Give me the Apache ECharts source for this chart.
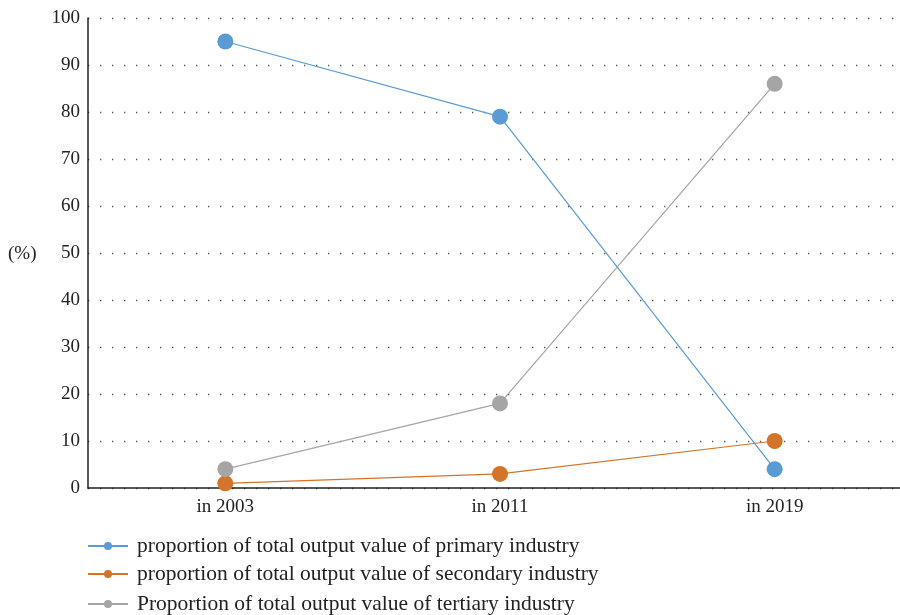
<!DOCTYPE html>
<html>
<head>
<meta charset="utf-8">
<script src="https://cdn.jsdelivr.net/npm/echarts@6/dist/echarts.min.js"></script>
<style>
  html, body { margin: 0; padding: 0; background: #fff; }
  #chart { width: 900px; height: 615px; }
</style>
</head>
<body>
<div id="chart"></div>
<script>
// Share of total output value by industry (%)
const years = ['in 2003', 'in 2011', 'in 2019'];
const primary = [95, 79, 4];
const secondary = [1, 3, 10];
const tertiary = [4, 18, 86];
const seriesNames = [
  'proportion of total output value of primary industry',
  'proportion of total output value of secondary industry',
  'Proportion of total output value of tertiary industry'
];
const colors = ['#5b9bd5', '#d4742a', '#a5a5a5'];
const legendTops = [535, 563, 593];

const font = '"Liberation Serif", "DejaVu Serif", serif';

const chart = echarts.init(document.getElementById('chart'));

function lineSeries(name, data, color) {
  return {
    name: name,
    type: 'line',
    data: data,
    symbol: 'circle',
    symbolSize: 16,
    lineStyle: { color: color, width: 1.2 },
    itemStyle: { color: color },
    emphasis: { disabled: true }
  };
}

// one legend per row so the stacked list never wraps into columns
function legendRow(name, top) {
  return {
    orient: 'vertical',
    left: 87,
    top: top,
    padding: 0,
    itemWidth: 40,
    itemHeight: 10,
    selectedMode: false,
    textStyle: { color: '#222', fontSize: 21.5, fontFamily: font, padding: [0, 0, 0, 4] },
    data: [name]
  };
}

chart.setOption({
  animation: false,
  textStyle: { fontFamily: font },
  color: colors,
  // the plot area runs past the right edge of the canvas
  grid: { left: 88, top: 18, width: 824, height: 470, outerBoundsMode: 'none', containLabel: false },
  xAxis: {
    type: 'category',
    data: years,
    boundaryGap: true,
    axisLine: { lineStyle: { color: '#222', width: 1.5 } },
    axisTick: { show: false },
    axisLabel: { color: '#222', fontSize: 19, fontFamily: font, margin: 10 },
    splitLine: { show: false }
  },
  yAxis: {
    type: 'value',
    min: 0,
    max: 100,
    interval: 10,
    axisLine: { show: true, lineStyle: { color: '#222', width: 1.5 } },
    axisTick: { show: false },
    axisLabel: { color: '#222', fontSize: 19, fontFamily: font, margin: 8 },
    splitLine: {
      show: true,
      lineStyle: { color: '#555', width: 1.3, type: [1.3, 10.7] }
    }
  },
  legend: seriesNames.map((n, i) => legendRow(n, legendTops[i])),
  graphic: [{
    type: 'text',
    left: 8,
    top: 245,
    style: { text: '(%)', fill: '#222', font: '19px ' + font }
  }],
  series: [
    lineSeries(seriesNames[0], primary, colors[0]),
    lineSeries(seriesNames[1], secondary, colors[1]),
    lineSeries(seriesNames[2], tertiary, colors[2])
  ]
});
</script>
</body>
</html>
